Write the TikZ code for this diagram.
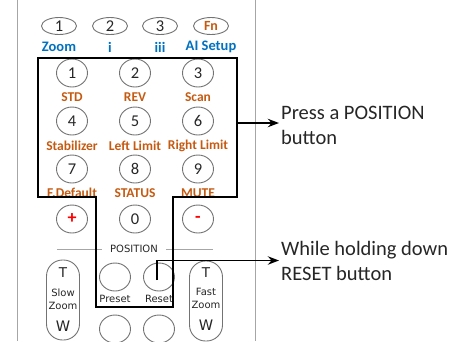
\documentclass[tikz,border=0pt]{standalone}
\usepackage{fontspec}
\setmainfont{Carlito}
\newfontfamily\panelfont{DejaVu Sans}
\usetikzlibrary{arrows.meta,shapes.geometric}
\definecolor{keyblue}{RGB}{0,112,192}
\definecolor{keyorange}{RGB}{197,90,17}
\definecolor{keyrim}{RGB}{115,115,115}
\definecolor{keytext}{RGB}{38,38,38}
\definecolor{panelgrey}{RGB}{166,166,166}
\tikzset{
  numkey/.style={ellipse, draw=keyrim, line width=0.9pt, minimum width=31pt, minimum height=28pt,
    inner sep=0pt, text=keytext, font=\fontsize{16.5}{16.5}\selectfont},
  topkey/.style={numkey, minimum width=35pt, minimum height=17pt},
  fnlabel/.style={text=keyblue, font=\bfseries\fontsize{14.5}{14.5}\selectfont},
  keylabel/.style={text=keyorange, inner sep=0pt, font=\bfseries\fontsize{13.5}{13.5}\selectfont},
  pill/.style={draw=keyrim, line width=0.9pt, rounded corners=16pt, minimum width=33pt, minimum height=80pt},
  tiny/.style={text=keytext, inner sep=0pt, font=\panelfont\fontsize{10}{10}\selectfont},
  big/.style={text=keytext, inner sep=0pt, font=\panelfont\fontsize{13.5}{13.5}\selectfont},
  note/.style={text=keytext, anchor=west, align=left, inner sep=2pt, font=\fontsize{20.5}{25}\selectfont},
  outline/.style={line width=2pt, line join=miter},
  callout/.style={->, line width=1.8pt},
}

\begin{document}
\begin{tikzpicture}[x=1pt, y=-1pt, >=Stealth]
  \clip (0,0) rectangle (466,341);

  % Edges of the remote.
  \draw[panelgrey, line width=1pt] (17,0) -- (17,341);
  \draw[panelgrey, line width=1pt] (255,0) -- (255,341);

  % Top row (function keys).
  \node[topkey] (t1) at (59,26) {1};
  \node[topkey] (t2) at (110,26) {2};
  \node[topkey] (t3) at (160,26) {3};
  \node[topkey, text=keyorange, font=\bfseries\fontsize{14}{14}\selectfont] (tfn) at (211,26) {Fn};
  \node[fnlabel] (lzoom) at (59,47) {Zoom};
  \node[fnlabel] (li) at (110,47) {i};
  \node[fnlabel] (liii) at (160,47) {iii};
  \node[fnlabel] (lai) at (211,47) {AI Setup};

  % Keypad.
  \node[numkey] (k1) at (72,73) {1};
  \node[numkey] (k2) at (135,73) {2};
  \node[numkey] (k3) at (198,73) {3};
  \node[keylabel] (lstd) at (72,97) {STD};
  \node[keylabel] (lrev) at (135,97) {REV};
  \node[keylabel] (lscan) at (198,97) {Scan};

  \node[numkey] (k4) at (72,121) {4};
  \node[numkey] (k5) at (135,121) {5};
  \node[numkey] (k6) at (198,121) {6};
  \node[keylabel] (lstab) at (72,146) {Stabilizer};
  \node[keylabel] (lleft) at (135,146) {Left Limit};
  \node[keylabel] (lright) at (198,146) {Right Limit};

  \node[numkey] (k7) at (72,169) {7};
  \node[numkey] (k8) at (135,169) {8};
  \node[numkey] (k9) at (198,169) {9};
  \node[keylabel] (ldef) at (72,193) {F.Default};
  \node[keylabel] (lstatus) at (135,193) {STATUS};
  \node[keylabel] (lmute) at (198,193) {MUTE};

  \node[numkey, text=red, font=\bfseries\fontsize{18}{18}\selectfont] (kplus) at (72,219) {+};
  \node[numkey] (k0) at (135,219) {0};
  \node[numkey, text=red, font=\bfseries\fontsize{18}{18}\selectfont] (kminus) at (198,219) {-};

  % Position block.
  \draw[panelgrey, line width=0.6pt] (57,249) -- (213,249);
  \node[tiny, fill=white, inner xsep=8pt, inner ysep=1pt] (lpos) at (134,249) {POSITION};
  \node[numkey] (preset) at (115,277) {};
  \node[numkey] (reset) at (159,277) {};
  \node[tiny] (lpreset) at (115,299) {Preset};
  \node[tiny] (lreset) at (159,299) {Reset};
  \node[numkey] (b1) at (115,329) {};
  \node[numkey] (b2) at (159,329) {};

  % Zoom rockers.
  \node[pill] (slow) at (63,300) {};
  \node[big] (slowT) at (63,273) {T};
  \node[tiny, align=center, font=\panelfont\fontsize{10}{13}\selectfont] (slowtxt) at (63,299.5) {Slow\\Zoom};
  \node[big, font=\panelfont\fontsize{14.5}{14.5}\selectfont] (slowW) at (63,326) {W};
  \node[pill] (fast) at (206,301) {};
  \node[big] (fastT) at (206,273) {T};
  \node[tiny, align=center, font=\panelfont\fontsize{10}{13}\selectfont] (fasttxt) at (206,298.5) {Fast\\Zoom};
  \node[big, font=\panelfont\fontsize{14.5}{14.5}\selectfont] (fastW) at (206,325) {W};

  % Outline of the keys and call-outs.
  \draw[outline] (38,58) -- (237,58) -- (237,197) -- (173,197) -- (173,307)
    -- (96,307) -- (96,197) -- (38,197) -- cycle;
  \coordinate (boxR) at (237,123);
  \node[note] (press) at (279,125.5) {Press a POSITION\\button};
  \node[note] (hold) at (279,260.5) {While holding down\\RESET button};
  \draw[callout] (boxR) -- (press.west |- boxR);
  \draw[callout] ([shift={(-2,3)}]reset.center) |- (hold.west);
\end{tikzpicture}
\end{document}
